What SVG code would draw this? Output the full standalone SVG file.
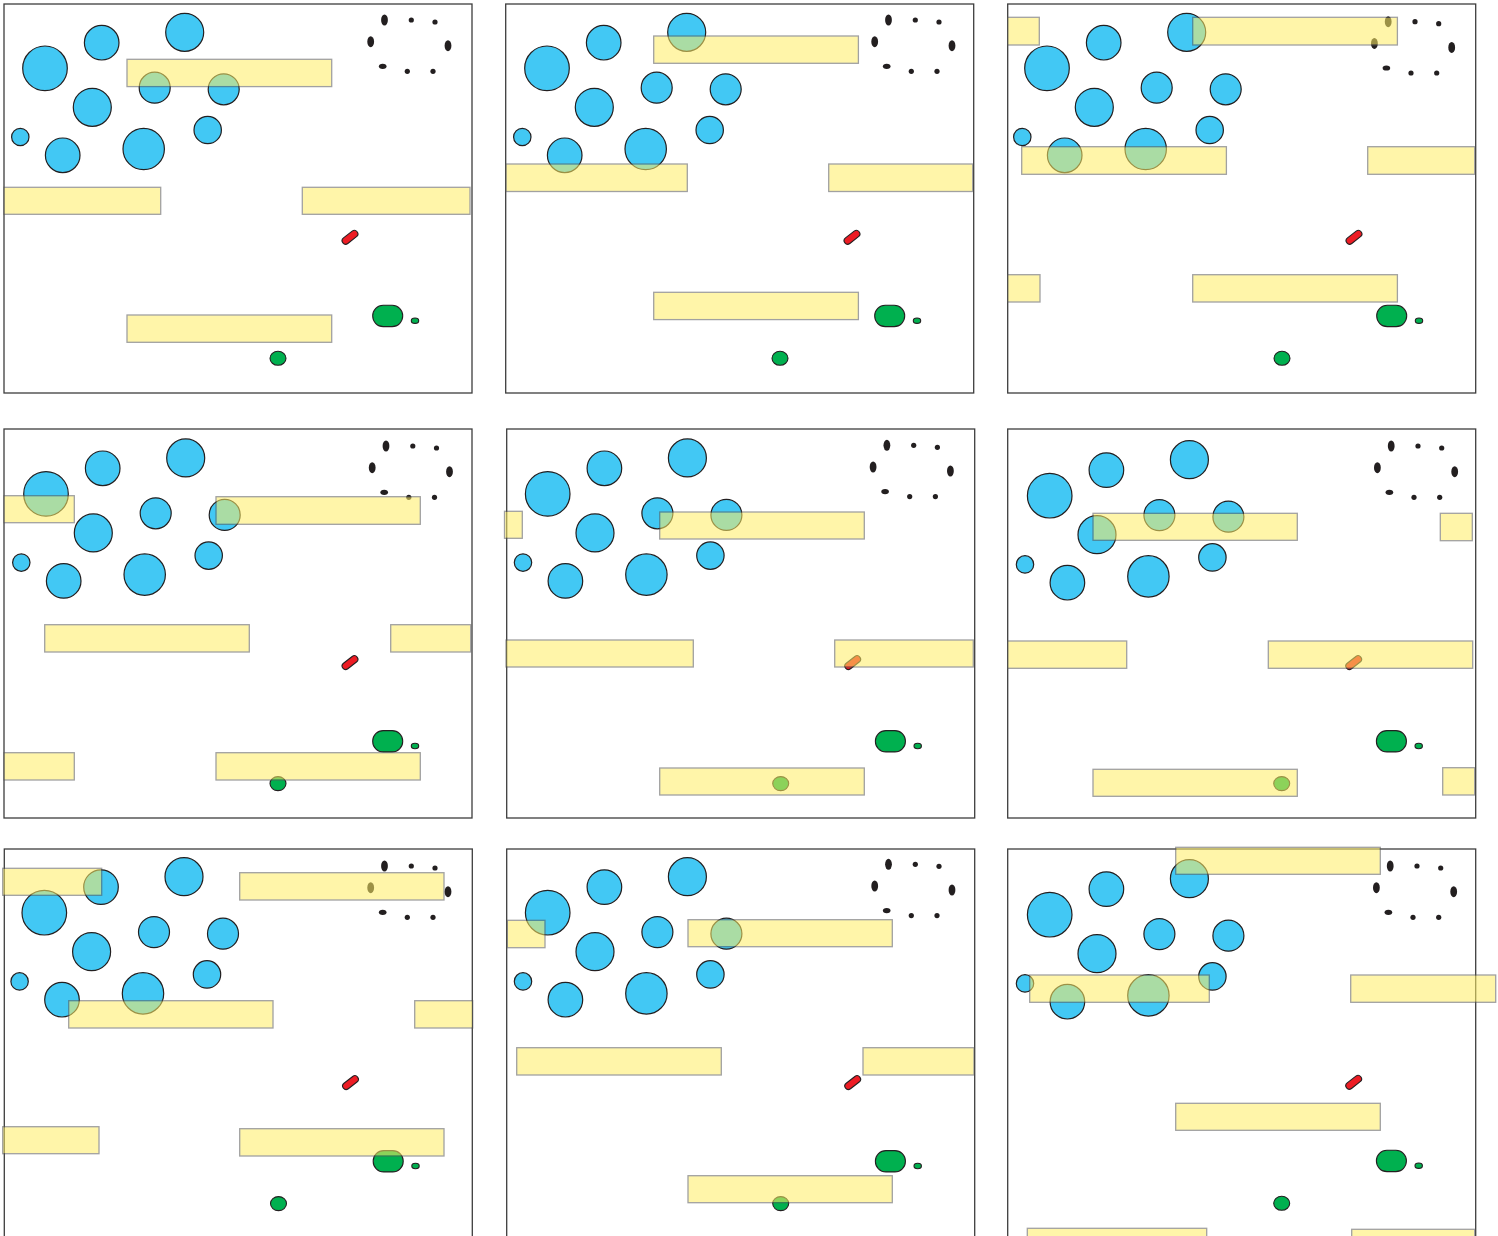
<svg xmlns="http://www.w3.org/2000/svg" xmlns:xlink="http://www.w3.org/1999/xlink" width="1498" height="1236" viewBox="0 0 1498 1236">
<style>
.frame{fill:none;stroke:#3d3d3d;stroke-width:1.3}
.b{fill:#42c8f4;stroke:#231f20;stroke-width:1.2}
.d{fill:#231f20}
.red{fill:#ed1c24;stroke:#231f20;stroke-width:1.1}
.g{fill:#00b04f;stroke:#231f20;stroke-width:1.1}
.y{fill:#ffee64;stroke:#555;stroke-width:1.3;opacity:0.55}
</style>
<defs>
<g id="bubbles">
<circle class="b" cx="45" cy="68.3" r="22.3"/>
<circle class="b" cx="101.7" cy="42.7" r="17.3"/>
<circle class="b" cx="184.7" cy="32.3" r="19"/>
<circle class="b" cx="92.3" cy="107.3" r="19"/>
<circle class="b" cx="154.7" cy="87.7" r="15.5"/>
<circle class="b" cx="223.7" cy="89.3" r="15.5"/>
<circle class="b" cx="207.7" cy="130" r="13.7"/>
<circle class="b" cx="20.3" cy="137" r="8.7"/>
<circle class="b" cx="62.7" cy="155.3" r="17.3"/>
<circle class="b" cx="143.7" cy="149" r="20.7"/>
</g>
<g id="dots">
<ellipse class="d" cx="384.5" cy="20" rx="3.4" ry="5.5"/>
<circle class="d" cx="411.3" cy="20" r="2.6"/>
<circle class="d" cx="435" cy="22" r="2.6"/>
<ellipse class="d" cx="370.7" cy="41.7" rx="3.4" ry="5.5"/>
<ellipse class="d" cx="448" cy="45.7" rx="3.4" ry="5.5"/>
<ellipse class="d" cx="382.7" cy="66.3" rx="3.8" ry="2.6"/>
<circle class="d" cx="407.3" cy="71.3" r="2.6"/>
<circle class="d" cx="433" cy="71.3" r="2.6"/>
</g>
<g id="items">
<rect class="red" x="341" y="233.8" width="18" height="7" rx="3.5" transform="rotate(-38 350 237.3)"/>
<rect class="g" x="372.7" y="305.3" width="30" height="21.3" rx="10.5"/>
<ellipse class="g" cx="415" cy="320.7" rx="3.7" ry="2.7"/>
<ellipse class="g" cx="278" cy="358.3" rx="8" ry="7"/>
</g>
</defs>
<rect width="1498" height="1236" fill="#fff"/>

<g id="panel1">
<rect class="frame" x="4" y="4" width="468" height="389"/>
<use xlink:href="#bubbles"/>
<use xlink:href="#dots"/>
<use xlink:href="#items"/>
<rect class="y" x="127" y="59.3" width="204.7" height="27.3"/>
<rect class="y" x="4" y="187.3" width="156.7" height="27"/>
<rect class="y" x="302.3" y="187.3" width="167.7" height="27"/>
<rect class="y" x="127" y="315" width="204.7" height="27.3"/>
</g>

<g id="panel2">
<rect class="frame" x="505.7" y="4" width="468" height="389"/>
<use xlink:href="#bubbles" transform="translate(502 0)"/>
<use xlink:href="#dots" transform="translate(504 0)"/>
<use xlink:href="#items" transform="translate(502 0)"/>
<rect class="y" x="653.7" y="36" width="204.7" height="27.3"/>
<rect class="y" x="506" y="164" width="181.3" height="27.5"/>
<rect class="y" x="828.7" y="164" width="144" height="27.5"/>
<rect class="y" x="653.7" y="292.3" width="204.7" height="27.3"/>
</g>

<g id="panel3">
<rect class="frame" x="1007.7" y="4" width="468" height="389"/>
<use xlink:href="#bubbles" transform="translate(1002 0)"/>
<use xlink:href="#dots" transform="translate(1003.7 1.7)"/>
<use xlink:href="#items" transform="translate(1004 0)"/>
<rect class="y" x="1007.7" y="17.3" width="31.6" height="27.7"/>
<rect class="y" x="1192.7" y="17.3" width="204.7" height="27.7"/>
<rect class="y" x="1021.7" y="146.7" width="204.7" height="27.6"/>
<rect class="y" x="1367.7" y="146.7" width="107" height="27.6"/>
<rect class="y" x="1007.7" y="274.7" width="32.3" height="27.3"/>
<rect class="y" x="1192.7" y="274.7" width="204.7" height="27.3"/>
</g>

<g id="panel4">
<rect class="frame" x="4" y="429" width="468" height="389"/>
<use xlink:href="#bubbles" transform="translate(1 425.6)"/>
<use xlink:href="#dots" transform="translate(1.5 426)"/>
<use xlink:href="#items" transform="translate(0 425.3)"/>
<rect class="y" x="4" y="495.7" width="70.3" height="27"/>
<rect class="y" x="216" y="496.7" width="204.3" height="27.6"/>
<rect class="y" x="44.7" y="624.7" width="204.6" height="27.3"/>
<rect class="y" x="390.7" y="624.7" width="80" height="27.3"/>
<rect class="y" x="4" y="752.7" width="70.3" height="27.3"/>
<rect class="y" x="216" y="752.7" width="204.3" height="27.3"/>
</g>

<g id="panel5">
<rect class="frame" x="506.7" y="429" width="468" height="389"/>
<use xlink:href="#bubbles" transform="translate(502.7 425.6)"/>
<use xlink:href="#dots" transform="translate(502.4 425.3)"/>
<use xlink:href="#items" transform="translate(502.7 425.3)"/>
<rect class="y" x="504.5" y="511.3" width="17.8" height="27"/>
<rect class="y" x="659.7" y="512" width="204.6" height="27"/>
<rect class="y" x="506" y="640" width="187.3" height="27"/>
<rect class="y" x="834.7" y="640" width="138.6" height="27"/>
<rect class="y" x="659.7" y="768" width="204.6" height="27"/>
</g>

<g id="panel6">
<rect class="frame" x="1007.7" y="429" width="468" height="389"/>
<use xlink:href="#bubbles" transform="translate(1004.7 427.4)"/>
<use xlink:href="#dots" transform="translate(1006.7 426)"/>
<use xlink:href="#items" transform="translate(1003.7 425.3)"/>
<rect class="y" x="1093" y="513.3" width="204.3" height="27"/>
<rect class="y" x="1440.3" y="513.3" width="32" height="27.4"/>
<rect class="y" x="1007.7" y="641" width="119" height="27.3"/>
<rect class="y" x="1268.3" y="641" width="204.4" height="27.3"/>
<rect class="y" x="1093" y="769.3" width="204.3" height="27"/>
<rect class="y" x="1442.7" y="767.7" width="32" height="27.3"/>
</g>

<g id="panel7">
<rect class="frame" x="4.3" y="849" width="468" height="389"/>
<use xlink:href="#bubbles" transform="translate(-0.7 844.4)"/>
<use xlink:href="#dots" transform="translate(0 846)"/>
<use xlink:href="#items" transform="translate(0.5 845.3)"/>
<rect class="y" x="2.7" y="868.3" width="99" height="27"/>
<rect class="y" x="239.7" y="872.7" width="204.3" height="27.3"/>
<rect class="y" x="68.7" y="1000.7" width="204.3" height="27.3"/>
<rect class="y" x="414.7" y="1000.7" width="58" height="27.3"/>
<rect class="y" x="2.7" y="1126.7" width="96.3" height="27"/>
<rect class="y" x="239.7" y="1128.7" width="204.3" height="27.3"/>
</g>

<g id="panel8">
<rect class="frame" x="506.7" y="849" width="468" height="389"/>
<use xlink:href="#bubbles" transform="translate(502.7 844.4)"/>
<use xlink:href="#dots" transform="translate(504 844.3)"/>
<use xlink:href="#items" transform="translate(502.7 845.3)"/>
<rect class="y" x="507.3" y="920.3" width="37.7" height="27.4"/>
<rect class="y" x="688" y="919.7" width="204.3" height="27"/>
<rect class="y" x="516.7" y="1047.7" width="204.6" height="27.3"/>
<rect class="y" x="863" y="1047.7" width="111" height="27.3"/>
<rect class="y" x="688" y="1175.7" width="204.3" height="27"/>
</g>

<g id="panel9">
<rect class="frame" x="1007.7" y="849" width="468" height="389"/>
<use xlink:href="#bubbles" transform="translate(1004.7 846.4)"/>
<use xlink:href="#dots" transform="translate(1005.7 846)"/>
<use xlink:href="#items" transform="translate(1003.7 845)"/>
<rect class="y" x="1175.7" y="847.3" width="204.6" height="27"/>
<rect class="y" x="1029.7" y="975" width="179.6" height="27.3"/>
<rect class="y" x="1350.7" y="975" width="145" height="27.3"/>
<rect class="y" x="1175.7" y="1103.3" width="204.6" height="27"/>
<rect class="y" x="1027.3" y="1228.3" width="179.4" height="27"/>
<rect class="y" x="1351.7" y="1229.3" width="123" height="27"/>
</g>
</svg>
